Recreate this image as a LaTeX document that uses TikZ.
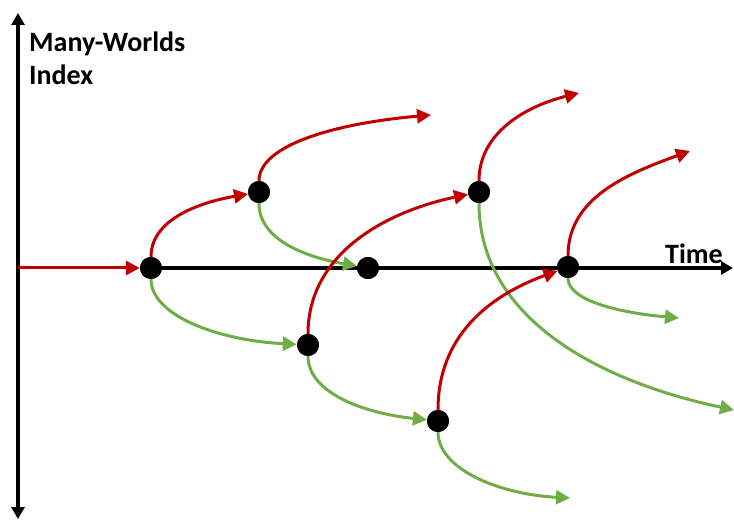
\documentclass[tikz,border=0pt]{standalone}
\usepackage{fontspec}
\setmainfont{Carlito}
\usetikzlibrary{arrows.meta}
\definecolor{bred}{HTML}{C00000}
\definecolor{bgreen}{HTML}{70AD47}
\begin{document}
\begin{tikzpicture}[x=1pt,y=1pt,
  dot/.style={circle,fill=black,minimum size=22pt,inner sep=0pt},
  axis/.style={line width=3.2pt,black,-{Triangle[length=12pt,width=13pt]}},
  redb/.style={line width=3pt,bred,-{Triangle[length=14pt,width=14pt]}},
  greenb/.style={line width=3pt,bgreen,-{Triangle[length=14pt,width=14pt]}},
  lbl/.style={font=\bfseries\fontsize{28}{33}\selectfont,inner sep=0pt}]
\useasboundingbox (0,0) rectangle (734,520);
% axis anchors
\coordinate (vtop) at (18,507);
\coordinate (vbot) at (18,1);
\coordinate (vmid) at (18,252);
\coordinate (hend) at (733,252);
% dots
\node[dot] (A) at (151,252) {};
\node[dot] (B) at (259,328) {};
\node[dot] (C) at (368,252) {};
\node[dot] (D) at (308,175) {};
\node[dot] (E) at (479,328) {};
\node[dot] (F) at (438,99) {};
\node[dot] (G) at (568,253) {};
% free ends
\coordinate (r1) at (431,405);
\coordinate (r2) at (579,427);
\coordinate (r3) at (690,369);
\coordinate (g2) at (734,110);
\coordinate (g3) at (570,22);
\coordinate (g4) at (679,202);
% axes
\draw[axis] (vmid) -- (vtop);
\draw[axis] (vmid) -- (vbot);
\draw[axis] (A.center) -- (hend);
% branches
\draw[redb] (vmid) -- (A);
\draw[redb] (A) to[out=90,in=190,out distance=36,in distance=53] (B);
\draw[greenb] (A) to[out=-90,in=177,out distance=36,in distance=80] (D);
\draw[redb] (B) to[out=90,in=185,out distance=36,in distance=95] (r1);
\draw[greenb] (B) to[out=-90,in=170,out distance=36,in distance=54] (C);
\draw[redb] (D) to[out=90,in=192,out distance=78,in distance=88] (E);
\draw[greenb] (D) to[out=-90,in=174,out distance=36,in distance=65] (F);
\draw[redb] (E) to[out=90,in=194,out distance=48,in distance=55] (r2);
\draw[greenb] (E) to[out=-90,in=168,out distance=114,in distance=140] (g2);
\draw[redb] (F) to[out=90,in=200,out distance=79,in distance=65] (G);
\draw[greenb] (F) to[out=-90,in=177,out distance=36,in distance=73] (g3);
\draw[redb] (G) to[out=90,in=200,out distance=58,in distance=67] (r3);
\draw[greenb] (G) to[out=-90,in=175,out distance=22,in distance=61] (g4);
% redraw dots on top
\foreach \n in {A,B,C,D,E,F,G} \fill (\n) circle (11pt);
% labels
\node[lbl,anchor=base west] (mw) at (29,468) {Many-Worlds};
\node[lbl,anchor=base west] (ix) at (29,435) {Index};
\node[lbl,anchor=base east] (tm) at (723,256) {Time};
\end{tikzpicture}
\end{document}
